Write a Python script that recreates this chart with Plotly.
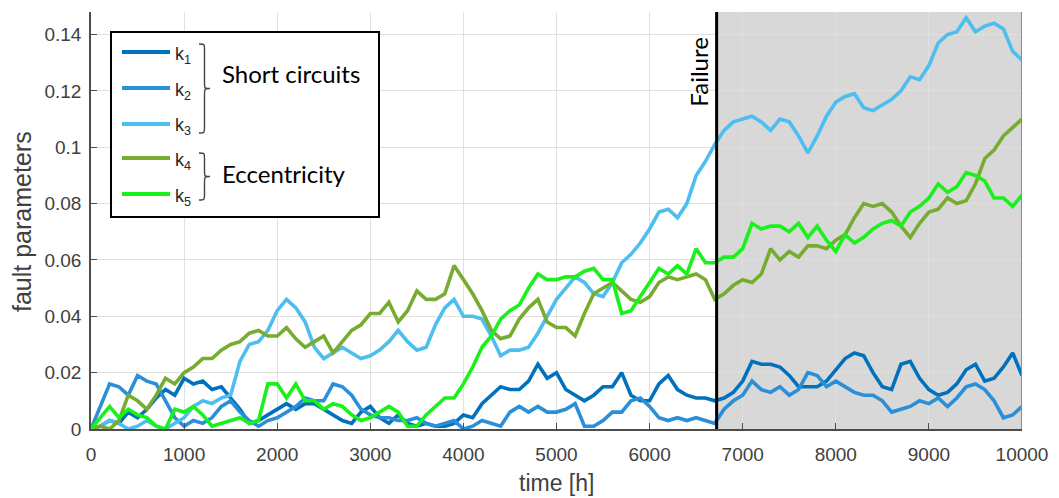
import plotly.graph_objects as go

# Operating time grid [h]
hours = list(range(0, 10001, 100))

# Fault parameters k1..k5 sampled every 100 h
k1 = [0.000, 0.001, 0.003, 0.002, 0.006, 0.004, 0.007, 0.011, 0.014, 0.012,
      0.018, 0.016, 0.017, 0.014, 0.015, 0.011, 0.007, 0.002, 0.003, 0.005,
      0.007, 0.009, 0.007, 0.009, 0.009, 0.007, 0.005, 0.003, 0.002, 0.006,
      0.008, 0.004, 0.002, 0.005, 0.002, 0.001, 0.002, 0.001, 0.001, 0.002,
      0.005, 0.004, 0.009, 0.012, 0.015, 0.014, 0.014, 0.017, 0.023, 0.018,
      0.020, 0.014, 0.012, 0.010, 0.012, 0.015, 0.015, 0.020, 0.012, 0.010,
      0.010, 0.016, 0.019, 0.014, 0.012, 0.011, 0.011, 0.010, 0.011, 0.013,
      0.017, 0.024, 0.023, 0.023, 0.022, 0.019, 0.015, 0.015, 0.015, 0.017,
      0.021, 0.025, 0.027, 0.026, 0.020, 0.015, 0.014, 0.023, 0.024, 0.018,
      0.014, 0.012, 0.013, 0.016, 0.021, 0.023, 0.017, 0.018, 0.022, 0.027,
      0.019]

k2 = [0.000, 0.008, 0.016, 0.015, 0.012, 0.019, 0.017, 0.016, 0.010, 0.004,
      0.001, 0.003, 0.002, 0.004, 0.008, 0.010, 0.006, 0.003, 0.001, 0.003,
      0.004, 0.006, 0.008, 0.011, 0.010, 0.010, 0.016, 0.015, 0.012, 0.007,
      0.005, 0.004, 0.004, 0.003, 0.003, 0.004, 0.002, 0.001, 0.002, 0.003,
      0.000, 0.001, 0.003, 0.002, 0.001, 0.006, 0.008, 0.006, 0.008, 0.006,
      0.006, 0.007, 0.009, 0.001, 0.001, 0.003, 0.006, 0.006, 0.010, 0.011,
      0.008, 0.004, 0.003, 0.004, 0.003, 0.004, 0.003, 0.002, 0.007, 0.010,
      0.012, 0.017, 0.014, 0.013, 0.015, 0.012, 0.014, 0.020, 0.019, 0.015,
      0.017, 0.015, 0.013, 0.012, 0.012, 0.010, 0.006, 0.007, 0.008, 0.010,
      0.009, 0.011, 0.008, 0.011, 0.015, 0.016, 0.014, 0.010, 0.004, 0.005,
      0.008]

k3 = [0.000, 0.001, 0.003, 0.002, 0.000, 0.001, 0.003, 0.001, 0.000, 0.002,
      0.004, 0.008, 0.010, 0.009, 0.011, 0.012, 0.024, 0.030, 0.031, 0.035,
      0.042, 0.046, 0.043, 0.038, 0.029, 0.025, 0.027, 0.029, 0.027, 0.025,
      0.026, 0.028, 0.031, 0.035, 0.031, 0.028, 0.029, 0.037, 0.043, 0.046,
      0.040, 0.040, 0.039, 0.033, 0.026, 0.028, 0.028, 0.029, 0.034, 0.040,
      0.046, 0.050, 0.054, 0.052, 0.048, 0.047, 0.052, 0.059, 0.062, 0.066,
      0.071, 0.077, 0.078, 0.075, 0.080, 0.090, 0.095, 0.101, 0.106, 0.109,
      0.110, 0.111, 0.109, 0.106, 0.110, 0.109, 0.104, 0.098, 0.104, 0.111,
      0.116, 0.118, 0.119, 0.114, 0.113, 0.115, 0.117, 0.120, 0.125, 0.124,
      0.129, 0.137, 0.140, 0.141, 0.146, 0.141, 0.143, 0.144, 0.142, 0.134,
      0.131]

k4 = [0.000, 0.001, 0.000, 0.003, 0.012, 0.010, 0.007, 0.012, 0.018, 0.016,
      0.020, 0.022, 0.025, 0.025, 0.028, 0.030, 0.031, 0.034, 0.035, 0.033,
      0.033, 0.036, 0.032, 0.029, 0.031, 0.033, 0.027, 0.031, 0.035, 0.037,
      0.041, 0.041, 0.045, 0.038, 0.042, 0.049, 0.046, 0.046, 0.048, 0.058,
      0.053, 0.048, 0.042, 0.035, 0.032, 0.033, 0.039, 0.043, 0.046, 0.038,
      0.036, 0.036, 0.033, 0.041, 0.048, 0.050, 0.052, 0.049, 0.046, 0.045,
      0.047, 0.052, 0.054, 0.053, 0.054, 0.055, 0.053, 0.046, 0.048, 0.051,
      0.053, 0.052, 0.055, 0.064, 0.060, 0.063, 0.061, 0.065, 0.065, 0.064,
      0.067, 0.069, 0.075, 0.080, 0.079, 0.080, 0.077, 0.072, 0.068, 0.073,
      0.077, 0.078, 0.082, 0.080, 0.081, 0.087, 0.096, 0.099, 0.104, 0.107,
      0.110]

k5 = [0.000, 0.004, 0.008, 0.004, 0.007, 0.005, 0.004, 0.001, 0.000, 0.007,
      0.006, 0.008, 0.005, 0.001, 0.002, 0.003, 0.004, 0.002, 0.003, 0.016,
      0.016, 0.011, 0.016, 0.010, 0.010, 0.007, 0.009, 0.008, 0.005, 0.003,
      0.004, 0.006, 0.008, 0.006, 0.001, 0.001, 0.005, 0.008, 0.011, 0.011,
      0.016, 0.022, 0.029, 0.033, 0.039, 0.042, 0.044, 0.050, 0.055, 0.053,
      0.053, 0.054, 0.054, 0.056, 0.057, 0.053, 0.053, 0.041, 0.042, 0.047,
      0.052, 0.057, 0.055, 0.058, 0.055, 0.064, 0.059, 0.059, 0.061, 0.061,
      0.064, 0.073, 0.071, 0.072, 0.072, 0.070, 0.073, 0.068, 0.072, 0.067,
      0.063, 0.069, 0.066, 0.068, 0.071, 0.073, 0.074, 0.072, 0.077, 0.079,
      0.082, 0.087, 0.084, 0.086, 0.091, 0.090, 0.088, 0.082, 0.082, 0.079,
      0.083]

failure_h = 6720
x_ticks = list(range(0, 10001, 1000))
x_tick_text = [str(v) for v in x_ticks]
y_ticks = [0, 0.02, 0.04, 0.06, 0.08, 0.1, 0.12, 0.14]
y_tick_text = ["0", "0.02", "0.04", "0.06", "0.08", "0.1", "0.12", "0.14"]

series = [
    ("k1", k1, "#0072BD"),
    ("k2", k2, "#2B8FD8"),
    ("k3", k3, "#4DBEEE"),
    ("k4", k4, "#77AC30"),
    ("k5", k5, "#1AF01A"),
]

W, H = 1059, 498
ML, MR, MT, MB = 91, 37, 12, 69
PW, PH = W - ML - MR, H - MT - MB


def fx(px):
    """Pixel column -> paper x."""
    return (px - ML) / PW


def fy(py):
    """Pixel row -> paper y."""
    return (H - MB - py) / PH


fig = go.Figure()
for name, vals, col in series:
    fig.add_trace(go.Scatter(x=hours, y=vals, name=name, mode="lines",
                             line=dict(color=col, width=3.6),
                             showlegend=False))

shapes = []
# post-failure region
shapes.append(dict(type="rect", xref="x", yref="paper", x0=failure_h, x1=10000,
                   y0=0, y1=1, fillcolor="#D8D8D8", line=dict(width=0),
                   layer="between"))
shapes.append(dict(type="line", xref="x", yref="paper", x0=10000, x1=10000,
                   y0=0, y1=1, line=dict(color="#8C8C8C", width=2), layer="above"))
# failure marker
shapes.append(dict(type="line", xref="x", yref="paper", x0=failure_h, x1=failure_h,
                   y0=0, y1=1, line=dict(color="black", width=3), layer="above"))

# legend box
shapes.append(dict(type="rect", xref="paper", yref="paper",
                   x0=fx(111), x1=fx(379), y0=fy(217), y1=fy(32),
                   fillcolor="white", line=dict(color="black", width=2),
                   layer="above"))
legend_rows = [52, 88, 124, 158, 194]
annotations = []
for (name, _, col), ry in zip(series, legend_rows):
    shapes.append(dict(type="line", xref="paper", yref="paper",
                       x0=fx(122), x1=fx(170), y0=fy(ry), y1=fy(ry),
                       line=dict(color=col, width=4), layer="above"))
    annotations.append(dict(xref="paper", yref="paper", x=fx(173), y=fy(ry + 3),
                            xanchor="left", yanchor="middle", showarrow=False,
                            text="k<sub>%s</sub>" % name[1:],
                            font=dict(family="Liberation Sans", size=18, color="#262626")))


def brace(x0, top, bot, w=11):
    mid = (top + bot) / 2
    xm = x0 + w / 2
    r = 6
    pts = [
        ("M", [(x0, top)]),
        ("C", [(xm, top), (xm, top), (xm, top + r)]),
        ("L", [(xm, mid - r)]),
        ("C", [(xm, mid), (xm, mid), (x0 + w, mid)]),
        ("C", [(xm, mid), (xm, mid), (xm, mid + r)]),
        ("L", [(xm, bot - r)]),
        ("C", [(xm, bot), (xm, bot), (x0, bot)]),
    ]
    path = ""
    for cmd, coords in pts:
        path += cmd + " " + " ".join("%.5f,%.5f" % (fx(a), fy(b)) for a, b in coords) + " "
    return dict(type="path", xref="paper", yref="paper", path=path.strip(),
                line=dict(color="#444444", width=1.4), layer="above")


shapes.append(brace(199, 44, 133))
shapes.append(brace(199, 153, 200))

annotations += [
    dict(xref="paper", yref="paper", x=fx(220), y=fy(74), xanchor="left",
         yanchor="middle", showarrow=False, text="Short circuits",
         font=dict(family="Lato", size=24, color="black")),
    dict(xref="paper", yref="paper", x=fx(220), y=fy(173), xanchor="left",
         yanchor="middle", showarrow=False, text="Eccentricity",
         font=dict(family="Lato", size=24, color="black")),
    dict(xref="x", yref="paper", x=failure_h, xshift=-19, y=fy(72),
         xanchor="center", yanchor="middle", showarrow=False, text="Failure",
         textangle=-90, font=dict(family="Lato", size=24, color="black")),
    dict(xref="paper", yref="paper", x=0.5, y=fy(483), xanchor="center",
         yanchor="middle", showarrow=False, text="time [h]",
         font=dict(family="Liberation Sans", size=23, color="#404040")),
    dict(xref="paper", yref="paper", x=fx(22), y=fy(222), xanchor="center",
         yanchor="middle", showarrow=False, text="fault parameters",
         textangle=-90,
         font=dict(family="Liberation Sans", size=25, color="#404040")),
]

axis_font = dict(family="Liberation Sans", size=19, color="#404040")
fig.update_layout(
    width=W, height=H,
    margin=dict(l=ML, r=MR, t=MT, b=MB, pad=0),
    paper_bgcolor="white", plot_bgcolor="white",
    shapes=shapes, annotations=annotations,
    xaxis=dict(range=[0, 10000], tickvals=x_ticks, ticktext=x_tick_text,
               ticks="inside", ticklen=6,
               tickcolor="#4D4D4D", showgrid=True, gridcolor="#E0E0E0", gridwidth=1,
               showline=True, linecolor="#4D4D4D", linewidth=1.5, zeroline=False,
               tickfont=axis_font, ticklabelstandoff=7),
    yaxis=dict(range=[0, 0.148], tickvals=y_ticks, ticktext=y_tick_text,
               ticks="inside", ticklen=6, tickcolor="#4D4D4D", showgrid=True,
               gridcolor="#E0E0E0", gridwidth=1, showline=True,
               linecolor="#4D4D4D", linewidth=1.5, zeroline=False,
               tickfont=axis_font, ticklabelstandoff=4),
)

fig.write_html("out.html")
